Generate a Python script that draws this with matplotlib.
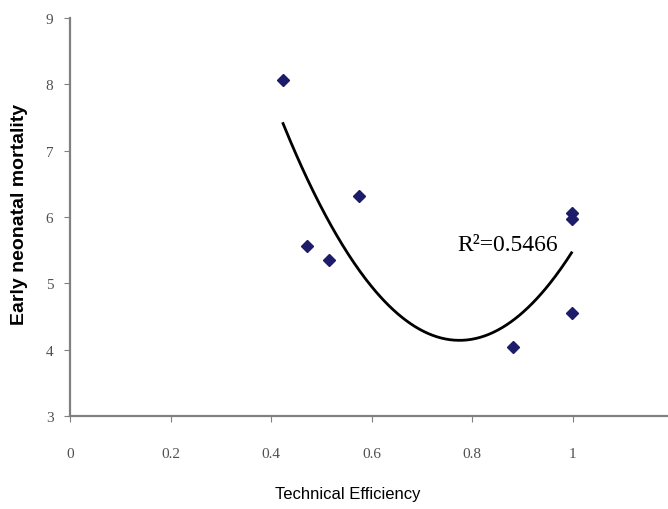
import numpy as np
import matplotlib
matplotlib.use("Agg")
import matplotlib.pyplot as plt

# technical efficiency vs early neonatal mortality
efficiency = [0.424, 0.472, 0.516, 0.576, 0.882, 0.998, 0.998, 0.998]
mortality = [8.07, 5.56, 5.35, 6.32, 4.04, 6.06, 5.97, 4.55]
r2_label = "R²=0.5466"

xticks = [0, 0.2, 0.4, 0.6, 0.8, 1]
xtick_labels = ["0", "0.2", "0.4", "0.6", "0.8", "1"]
yticks = [3, 4, 5, 6, 7, 8, 9]

fig = plt.figure(figsize=(6.68, 5.10), dpi=100)
ax = fig.add_axes([70/668, 1-417/510, 598/668, (417-19)/510])

# second order trend line
coef = np.polyfit(efficiency, mortality, 2)
xs = np.linspace(min(efficiency), max(efficiency), 200)
ax.plot(xs, np.polyval(coef, xs), color="black", lw=2)

ax.plot(efficiency, mortality, "D", color="#1c1c6b", markersize=6, ls="none")

ax.text(0.870, 5.59, r2_label, fontsize=17, family="Liberation Serif",
        ha="center", va="center")

ax.set_xlim(0, 1.19)
ax.set_ylim(3, 9)
ax.set_xticks(xticks)
ax.set_xticklabels(xtick_labels)
ax.set_yticks(yticks)
for lab in ax.get_xticklabels() + ax.get_yticklabels():
    lab.set_family("Liberation Serif")
    lab.set_fontsize(11)
    lab.set_color("#505050")
ax.tick_params(axis="x", direction="out", length=4, pad=18, color="#808080")
ax.tick_params(axis="y", direction="out", length=4, pad=8, color="#808080")

for s in ["top", "right"]:
    ax.spines[s].set_visible(False)
for s in ["left", "bottom"]:
    ax.spines[s].set_color("#808080")
    ax.spines[s].set_linewidth(1.6)

fig.text(348/668, 1-495/510, "Technical Efficiency", fontsize=12,
         family="Liberation Sans", ha="center", va="center")
fig.text(20/668, 1-214/510, "Early neonatal mortality", fontsize=14,
         family="Liberation Sans", weight="bold", rotation=90,
         ha="center", va="center")

fig.savefig("out.png", dpi=100)
